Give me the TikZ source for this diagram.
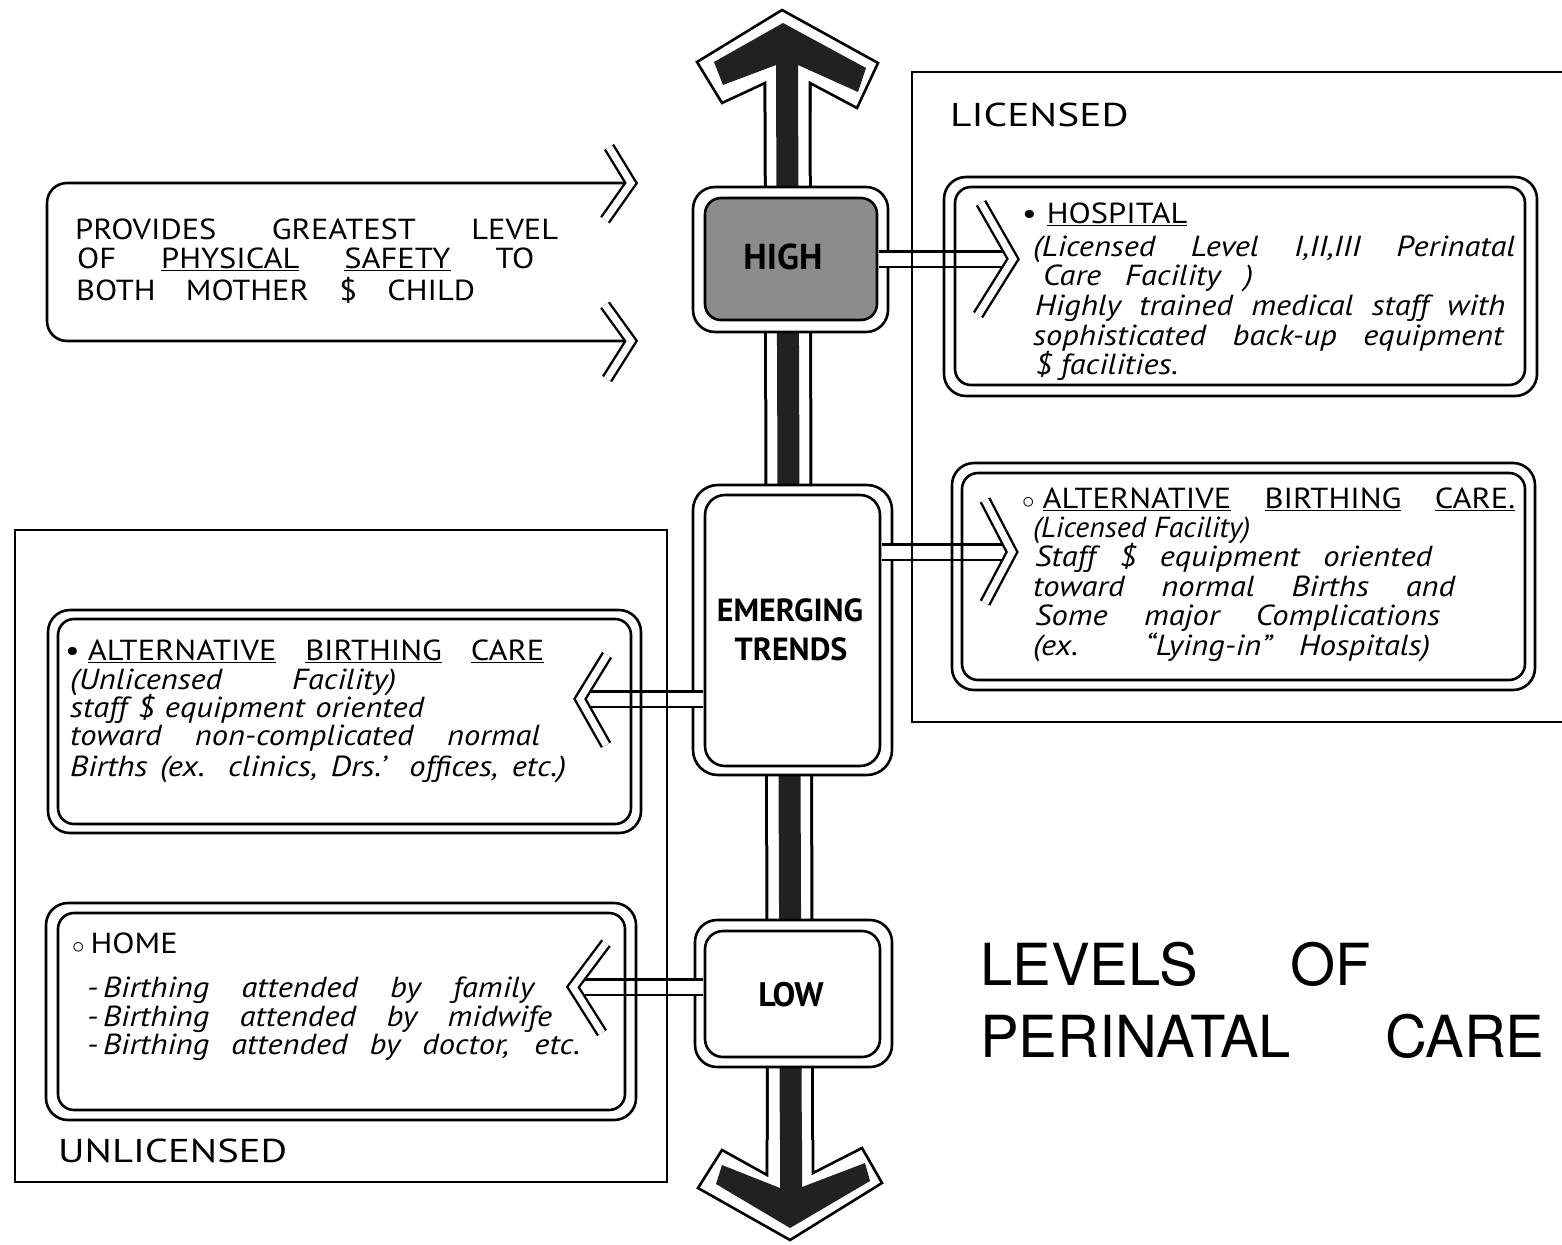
\documentclass[tikz,border=0pt]{standalone}
\usepackage{fontspec}
\usepackage{graphicx}
\newfontfamily\hand[FakeStretch=1.12]{PT Sans}
\newfontfamily\boxfont{PT Sans}
\newfontfamily\titlefont{TeX Gyre Heros}
% set a line to a given width: stretch the word gaps, or squeeze if too long
\newsavebox\fitlinebox
\newcommand{\fitline}[2]{%
  \sbox\fitlinebox{#2}%
  \ifdim\wd\fitlinebox<#1pt\relax\makebox[#1pt][s]{#2}%
  \else\resizebox{#1pt}{\height}{\usebox\fitlinebox}\fi}
\definecolor{axisdark}{gray}{0.13}
\definecolor{highgray}{gray}{0.55}

\begin{document}
\begin{tikzpicture}[x=1pt,y=-1pt,
  ink/.style={draw=black, line width=2.6pt},
  frameline/.style={draw=black, line width=2.2pt},
  conn/.style={draw=black, line width=2.6pt, double=white, double distance=13pt},
  chev/.style={draw=black, line width=2.4pt, double=white, double distance=7pt, line join=miter, miter limit=10},
  levelbox/.style={ink, rectangle, inner sep=0pt},
  caps/.style={anchor=base west, inner sep=0pt, font=\hand\fontsize{29}{29}\selectfont},
  cursive/.style={anchor=base west, inner sep=0pt, font=\hand\itshape\fontsize{29}{29}\selectfont},
  level/.style={inner sep=0pt, font=\boxfont\bfseries\fontsize{32}{32}\selectfont},
  framelabel/.style={anchor=base west, inner sep=0pt, font=\hand\fontsize{33}{33}\selectfont},
  title/.style={anchor=base west, inner sep=0pt, font=\titlefont\fontsize{58}{58}\selectfont},
]
\useasboundingbox (0,0) rectangle (1562,1244);

% ---------- vertical scale: outlined shaft with dark core ----------
\draw[line width=48pt, black] (787.5,70) -- (790,1185);
\draw[line width=42pt, white] (787.5,70) -- (790,1185);
\draw[line width=22pt, axisdark] (787,70) -- (791,1185);

% top arrow head
\filldraw[fill=white, ink, line join=miter]
  (765,112) -- (765,83) -- (722,103) -- (697,62) -- (782,10) -- (878,63) -- (857,108) -- (810,83) -- (810,112);
\fill[axisdark] (776,112) -- (776,65) -- (723,85) -- (714,62) -- (783,23) -- (866,68) -- (858,92) -- (798,65) -- (798,112) -- cycle;

% bottom arrow head
\filldraw[fill=white, ink, line join=miter]
  (767,1140) -- (767,1175) -- (722,1150) -- (698,1188) -- (790,1240) -- (882,1183) -- (862,1148) -- (813,1173) -- (813,1140);
\fill[axisdark] (780,1140) -- (780,1188) -- (722,1165) -- (716,1184) -- (790,1228) -- (870,1181) -- (865,1163) -- (802,1187) -- (802,1140) -- cycle;

% ---------- level boxes on the scale ----------
\node[levelbox, fill=white, rounded corners=22pt, minimum width=195pt, minimum height=145pt] (highout) at (790.5,259.5) {};
\node[levelbox, fill=white, rounded corners=25pt, minimum width=199pt, minimum height=290pt] (emout) at (792.5,630) {};
\node[levelbox, fill=white, rounded corners=22pt, minimum width=197pt, minimum height=147pt] (lowout) at (793.5,993.5) {};

% chevron tips of the connectors
\coordinate (hospTip) at (1013,259);
\coordinate (altLTip) at (1012,552);
\coordinate (altUTip) at (580,699);
\coordinate (homeTip) at (573,987);

% connectors (tubes)
\draw[conn] (879,259) -- (hospTip);
\draw[conn] (882,552) -- (altLTip);
\draw[conn] (703,699) -- (altUTip);
\draw[conn] (703,987) -- (homeTip);

\node[levelbox, fill=highgray, rounded corners=16pt, minimum width=172pt, minimum height=122pt] (highin) at (791,259) {};
\node[levelbox, fill=white, rounded corners=20pt, minimum width=175pt, minimum height=271pt] (emin) at (792.5,630.5) {};
\node[levelbox, fill=white, rounded corners=18pt, minimum width=175pt, minimum height=126pt] (lowin) at (792.5,994) {};

\node[level, font=\boxfont\bfseries\fontsize{36}{36}\selectfont] (high) at (783,257) {HIGH};
\node[level, anchor=base] (emerging) at (790,621) {EMERGING};
\node[level, anchor=base] (trends) at (791,660) {TRENDS};
\node[level, font=\boxfont\bfseries\fontsize{34}{34}\selectfont] (low) at (791,995) {LOW};

% ---------- safety banner ----------
\coordinate (safeTopTip) at (631,183);
\coordinate (safeBotTip) at (631,341);
\draw[ink, rounded corners=20pt] (627,183) -- (47,183) -- (47,341) -- (627,341);
\draw[chev] ([shift={(-22,-36)}]safeTopTip) -- (safeTopTip) -- ([shift={(-26,37)}]safeTopTip);
\draw[chev] ([shift={(-26,-36)}]safeBotTip) -- (safeBotTip) -- ([shift={(-24,38)}]safeBotTip);

% ---------- description boxes (double outline) ----------
\draw[ink, rounded corners=22pt] (944,177) rectangle (1537,396);
\draw[ink, rounded corners=16pt] (955,187) rectangle (1525,385);
\draw[ink, rounded corners=22pt] (952,463) rectangle (1535,690);
\draw[ink, rounded corners=16pt] (962,473) rectangle (1525,680);
\draw[ink, rounded corners=22pt] (48,610) rectangle (641,833);
\draw[ink, rounded corners=16pt] (58,619) rectangle (631,824);
\draw[ink, rounded corners=22pt] (46,903) rectangle (636,1120);
\draw[ink, rounded corners=16pt] (58,913) rectangle (625,1110);

\draw[chev] ([shift={(-32,-56)}]hospTip) -- (hospTip) -- ([shift={(-35,56)}]hospTip);
\draw[chev] ([shift={(-27,-52)}]altLTip) -- (altLTip) -- ([shift={(-27,51)}]altLTip);
\draw[chev] ([shift={(27,-44)}]altUTip) -- (altUTip) -- ([shift={(26,46)}]altUTip);
\draw[chev] ([shift={(33,-44)}]homeTip) -- (homeTip) -- ([shift={(29,46)}]homeTip);

% ---------- licence frames ----------
\draw[frameline] (1562,72) -- (912,72) -- (912,722) -- (1562,722);
\draw[frameline] (15,530) rectangle (667,1182);
\node[framelabel] (licensed) at (950,127) {\scalebox{1.12}[1]{LICENSED}};
\node[framelabel] (unlicensed) at (58,1162) {\scalebox{1.1}[1]{UNLICENSED}};

% ---------- texts ----------
\node[caps] (p1) at (75,239) {\fitline{483}{PROVIDES GREATEST LEVEL}};
\node[caps] (p2) at (77,268) {\fitline{457}{OF \underline{PHYSICAL} \underline{SAFETY} TO}};
\node[caps] (p3) at (76,300) {\fitline{399}{BOTH MOTHER \$ CHILD}};

\node[caps] (h1) at (1022,223) {\textbullet\hspace{10pt}\underline{HOSPITAL}};
\node[cursive] (h2) at (1033,256) {\fitline{482}{(Licensed Level I,II,III Perinatal}};
\node[cursive] (h3) at (1043,285) {\fitline{210}{Care Facility )}};
\node[cursive] (h4) at (1035,315) {\fitline{470}{Highly trained medical staff with}};
\node[cursive] (h5) at (1033,345) {\fitline{470}{sophisticated back-up equipment}};
\node[cursive] (h6) at (1035,374) {\$ facilities.};

\node[caps] (a1) at (1022,508) {\fitline{493}{$\circ$\hspace{8pt}\underline{ALTERNATIVE} \underline{BIRTHING} \underline{CARE.}}};
\node[cursive] (a2) at (1033,537) {\fitline{217}{(Licensed Facility)}};
\node[cursive] (a3) at (1035,566) {\fitline{397}{Staff \$ equipment oriented}};
\node[cursive] (a4) at (1033,596) {\fitline{422}{toward normal Births and}};
\node[cursive] (a5) at (1035,625) {\fitline{405}{Some major Complications}};
\node[cursive] (a6) at (1033,655) {\fitline{397}{(ex. “Lying-in” Hospitals)}};

\node[caps] (u1) at (65,660) {\fitline{479}{\textbullet\hspace{8pt}\underline{ALTERNATIVE} \underline{BIRTHING} \underline{CARE}}};
\node[cursive] (u2) at (70,689) {\fitline{326}{(Unlicensed Facility)}};
\node[cursive] (u3) at (70,717) {\fitline{354}{staff \$ equipment oriented}};
\node[cursive] (u4) at (70,745) {\fitline{470}{toward non-complicated normal}};
\node[cursive] (u5) at (70,776) {\fitline{496}{Births (ex. clinics, Drs.’ offices, etc.)}};

\node[caps] (m1) at (72,953) {$\circ$\hspace{6pt}HOME};
\node[cursive] (m2) at (87,997) {\fitline{447}{-\,Birthing attended by family}};
\node[cursive] (m3) at (87,1026) {\fitline{465}{-\,Birthing attended by midwife}};
\node[cursive] (m4) at (87,1054) {\fitline{493}{-\,Birthing attended by doctor, etc.}};

% ---------- title ----------
\node[title] (t1) at (980,985) {LEVELS};
\node[title] (t2) at (1290,985) {OF};
\node[title] (t3) at (980,1057) {PERINATAL};
\node[title] (t4) at (1385,1057) {CARE};
\end{tikzpicture}
\end{document}
